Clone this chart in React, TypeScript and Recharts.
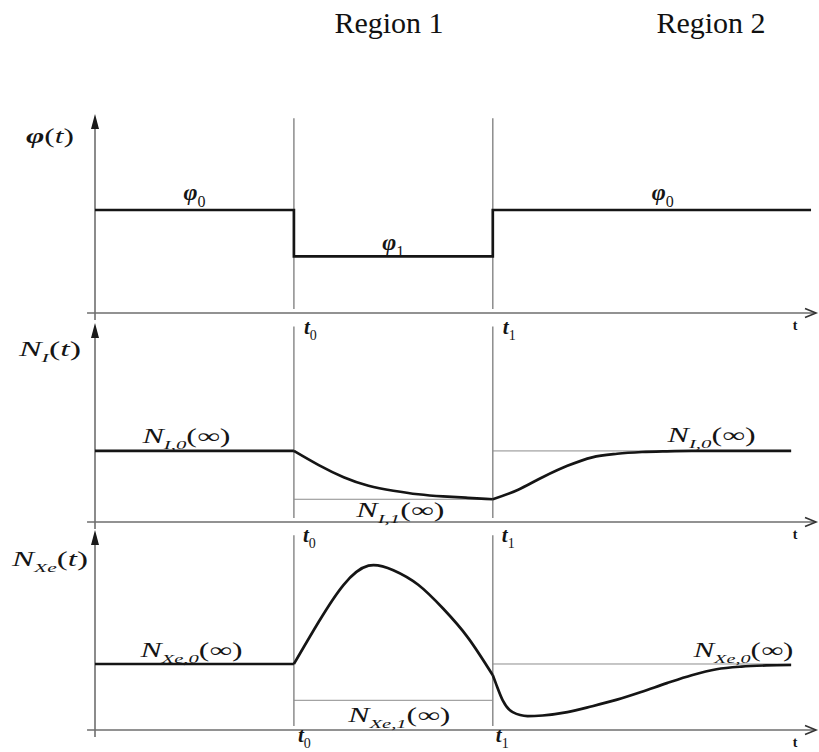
import React from "react"
import { LineChart, Line, XAxis, YAxis, ReferenceLine, ReferenceDot } from "recharts"

// time axis: flux steps down at t0 and back up at t1
const T0 = 2
const T1 = 4
const T_MAX = 7.25

// neutron flux φ(t)
const PHI_0 = 1
const PHI_1 = 0.55
const fluxTime = [0, T0, T1, 7.2]
const fluxLevel = [PHI_0, PHI_1, PHI_0, PHI_0]

// iodine concentration N_I(t)
const NI_0 = 1
const NI_1 = 0.32
const iodineTimeA = [0, T0]
const iodineLevelA = [1, 1]
const iodineTimeB = [2, 2.25, 2.5, 2.75, 3, 3.25, 3.5, 3.75, 4]
const iodineLevelB = [1, 0.8, 0.63, 0.51, 0.44, 0.39, 0.36, 0.34, 0.32]
const iodineTimeC = [4, 4.25, 4.5, 4.75, 5, 5.25, 5.5, 5.75, 6, 7]
const iodineLevelC = [0.32, 0.45, 0.63, 0.79, 0.91, 0.96, 0.985, 0.995, 1, 1]

// xenon concentration N_Xe(t)
const XE_0 = 1
const XE_1 = 0.45
const xenonTimeA = [0, T0]
const xenonLevelA = [1, 1]
const xenonTimeB = [2, 2.25, 2.5, 2.75, 3, 3.25, 3.5, 3.75, 4]
const xenonLevelB = [1, 1.64, 2.2, 2.49, 2.42, 2.2, 1.84, 1.4, 0.83]
const xenonTimeC = [4, 4.03, 4.1, 4.2, 4.35, 4.5, 4.75, 5, 5.25, 5.5, 5.75, 6, 6.25, 6.5, 6.75, 7]
const xenonLevelC = [0.83, 0.71, 0.45, 0.27, 0.21, 0.22, 0.27, 0.36, 0.46, 0.58, 0.71, 0.83, 0.92, 0.96, 0.978, 0.985]

const regionLabels = ["Region 1", "Region 2"]

const SERIF = "'Liberation Serif', 'Times New Roman', serif"
const AXIS = "#6e6e6e"
const GUIDE = "#8c8c8c"
const INK = "#151515"

const rows = (ts: number[], vs: number[]) => ts.map((t, i) => ({ t, v: vs[i] }))

type Seg = { s: string; it?: boolean; b?: boolean; sub?: boolean }

function MathText({ x, y, segs, size = 20, width, anchor = "middle" }: { x: number; y: number; segs: Seg[]; size?: number; width?: number; anchor?: string }) {
  let low = false
  return (
    <text x={x} y={y} textAnchor={anchor as any} fontFamily={SERIF} fontSize={size} fill={INK}
      textLength={width} lengthAdjust={width ? "spacingAndGlyphs" : undefined}>
      {segs.map((g, i) => {
        const shift = g.sub ? (low ? 0 : size * 0.28) : low ? -size * 0.28 : 0
        low = !!g.sub
        return (
          <tspan key={i} dy={shift || undefined} fontSize={g.sub ? Math.round(size * 0.65) : size}
            fontStyle={g.it ? "italic" : "normal"} fontWeight={g.b ? 700 : 400}>{g.s}</tspan>
        )
      })}
    </text>
  )
}

// text pinned to a data point, shifted by a few pixels
const tag = (segs: Seg[], dx: number, dy: number, opts: { size?: number; width?: number; anchor?: string } = {}) =>
  (p: any) => <MathText x={p.cx + dx} y={p.cy + dy} segs={segs} {...opts} />

// axis line with an arrow head at its second point
const arrow = (open: boolean) => (p: any) => {
  const { x1, y1, x2, y2 } = p
  const a = Math.atan2(y2 - y1, x2 - x1)
  const L = open ? 11 : 15
  const W = open ? 4.5 : 4
  const bx = x2 - L * Math.cos(a)
  const by = y2 - L * Math.sin(a)
  const px = -Math.sin(a) * W
  const py = Math.cos(a) * W
  return (
    <g>
      <line x1={x1} y1={y1} x2={open ? x2 : bx} y2={open ? y2 : by} stroke={AXIS} strokeWidth={1.6} />
      {open ? (
        <polyline points={`${bx + px},${by + py} ${x2},${y2} ${bx - px},${by - py}`} fill="none" stroke="#333" strokeWidth={1.6} />
      ) : (
        <polygon points={`${x2},${y2} ${bx + px},${by + py} ${bx - px},${by - py}`} fill="#1a1a1a" />
      )}
    </g>
  )
}

const phiTitle: Seg[] = [{ s: "φ", it: true, b: true }, { s: "(" }, { s: "t", it: true }, { s: ")" }]
const phi0: Seg[] = [{ s: "φ", it: true, b: true }, { s: "0", sub: true }]
const phi1: Seg[] = [{ s: "φ", it: true, b: true }, { s: "1", sub: true }]
const niTitle: Seg[] = [{ s: "N", it: true }, { s: "I", it: true, sub: true }, { s: "(" }, { s: "t", it: true }, { s: ")" }]
const ni0: Seg[] = [{ s: "N", it: true }, { s: "I,0", it: true, sub: true }, { s: "(∞)" }]
const ni1: Seg[] = [{ s: "N", it: true }, { s: "I,1", it: true, sub: true }, { s: "(∞)" }]
const xeTitle: Seg[] = [{ s: "N", it: true }, { s: "Xe", it: true, sub: true }, { s: "(" }, { s: "t", it: true }, { s: ")" }]
const xe0: Seg[] = [{ s: "N", it: true }, { s: "Xe,0", it: true, sub: true }, { s: "(∞)" }]
const xe1: Seg[] = [{ s: "N", it: true }, { s: "Xe,1", it: true, sub: true }, { s: "(∞)" }]
const t0: Seg[] = [{ s: "t", it: true, b: true }, { s: "0", sub: true }]
const t1: Seg[] = [{ s: "t", it: true, b: true }, { s: "1", sub: true }]
const tAxis: Seg[] = [{ s: "t", b: true }]

function Frame({ yMax, vLo, vHi, title, titleDy, titleW, tDx0, tDx1, tDy }: any) {
  return (
    <>
      <ReferenceLine segment={[{ x: T0, y: vLo }, { x: T0, y: vHi }]} stroke={GUIDE} strokeWidth={1.5} ifOverflow="visible" />
      <ReferenceLine segment={[{ x: T1, y: vLo }, { x: T1, y: vHi }]} stroke={GUIDE} strokeWidth={1.5} ifOverflow="visible" />
      <ReferenceLine segment={[{ x: -0.08, y: 0 }, { x: T_MAX, y: 0 }]} shape={arrow(true)} ifOverflow="visible" />
      <ReferenceLine segment={[{ x: 0, y: -yMax * 0.035 }, { x: 0, y: yMax }]} shape={arrow(false)} ifOverflow="visible" />
      <ReferenceDot x={0} y={yMax} r={0} ifOverflow="visible" shape={tag(title, -45, titleDy, { width: titleW })} />
      <ReferenceDot x={T0} y={0} r={0} ifOverflow="visible" shape={tag(t0, tDx0, tDy, { anchor: "start", size: 21 })} />
      <ReferenceDot x={T1} y={0} r={0} ifOverflow="visible" shape={tag(t1, tDx1, tDy, { anchor: "start", size: 21 })} />
      <ReferenceDot x={7.04} y={0} r={0} ifOverflow="visible" shape={tag(tAxis, 0, 17, { size: 14 })} />
    </>
  )
}

function Panel({ top, height, mTop, mBottom, yMax, children }: any) {
  return (
    <div style={{ position: "absolute", left: 0, top }}>
      <LineChart width={819} height={height} margin={{ top: mTop, right: 3, bottom: mBottom, left: 95 }}>
        <XAxis type="number" dataKey="t" domain={[0, T_MAX]} scale="linear" hide />
        <YAxis type="number" domain={[0, yMax]} scale="linear" hide />
        {children}
      </LineChart>
    </div>
  )
}

const curve = { dataKey: "v", stroke: INK, strokeWidth: 2.7, dot: false, isAnimationActive: false, activeDot: false }

export default function App() {
  const phiMax = 1.932
  const niMax = 2.8
  const xeMax = 3.03
  return (
    <div style={{ position: "absolute", left: 0, top: 0, width: 819, height: 752, background: "#fff" }}>
      {regionLabels.map((r, i) => (
        <div key={r} style={{ position: "absolute", top: 8, left: [289, 611][i], width: 200, textAlign: "center", fontSize: 30, lineHeight: "30px", color: "#111", fontFamily: SERIF }}>{r}</div>
      ))}

      <Panel top={0} height={345} mTop={114} mBottom={32} yMax={phiMax}>
        <Frame yMax={phiMax} vLo={0.04} vHi={1.89} title={phiTitle} titleDy={29} titleW={48} tDx0={10} tDx1={10} tDy={21} />
        <Line data={rows(fluxTime, fluxLevel)} type="stepAfter" {...curve} />
        <ReferenceDot x={1} y={PHI_0} r={0} ifOverflow="visible" shape={tag(phi0, 0, -10, { size: 24 })} />
        <ReferenceDot x={3} y={PHI_1} r={0} ifOverflow="visible" shape={tag(phi1, 0, -6, { size: 24 })} />
        <ReferenceDot x={5.71} y={PHI_0} r={0} ifOverflow="visible" shape={tag(phi0, 0, -10, { size: 24 })} />
      </Panel>

      <Panel top={316} height={238} mTop={7} mBottom={32} yMax={niMax}>
        <Frame yMax={niMax} vLo={0.056} vHi={2.75} title={niTitle} titleDy={33} titleW={62} tDx0={9} tDx1={9} tDy={20} />
        <ReferenceLine segment={[{ x: T0, y: NI_1 }, { x: T1, y: NI_1 }]} stroke={GUIDE} strokeWidth={1} />
        <ReferenceLine segment={[{ x: T1, y: NI_0 }, { x: 7, y: NI_0 }]} stroke={GUIDE} strokeWidth={1} />
        <Line data={rows(iodineTimeA, iodineLevelA)} type="linear" {...curve} />
        <Line data={rows(iodineTimeB, iodineLevelB)} type="natural" {...curve} />
        <Line data={rows(iodineTimeC, iodineLevelC)} type="monotone" {...curve} />
        <ReferenceDot x={0.92} y={NI_0} r={0} ifOverflow="visible" shape={tag(ni0, 0, -8, { width: 88 })} />
        <ReferenceDot x={3.07} y={NI_1} r={0} ifOverflow="visible" shape={tag(ni1, 0, 18, { width: 88 })} />
        <ReferenceDot x={6.2} y={NI_0} r={0} ifOverflow="visible" shape={tag(ni0, 0, -9, { width: 88 })} />
      </Panel>

      <Panel top={524} height={228} mTop={6} mBottom={22} yMax={xeMax}>
        <Frame yMax={xeMax} vLo={0.06} vHi={2.95} title={xeTitle} titleDy={36} titleW={76} tDx0={4} tDx1={3} tDy={12} />
        <ReferenceLine segment={[{ x: T0, y: XE_1 }, { x: T1, y: XE_1 }]} stroke={GUIDE} strokeWidth={1} />
        <ReferenceLine segment={[{ x: T1, y: XE_0 }, { x: 7, y: XE_0 }]} stroke={GUIDE} strokeWidth={1} />
        <Line data={rows(xenonTimeA, xenonLevelA)} type="linear" {...curve} />
        <Line data={rows(xenonTimeB, xenonLevelB)} type="natural" {...curve} />
        <Line data={rows(xenonTimeC, xenonLevelC)} type="monotone" {...curve} />
        <ReferenceDot x={0.97} y={XE_0} r={0} ifOverflow="visible" shape={tag(xe0, 0, -7, { width: 102 })} />
        <ReferenceDot x={3.06} y={XE_1} r={0} ifOverflow="visible" shape={tag(xe1, 0, 22, { width: 102 })} />
        <ReferenceDot x={6.52} y={XE_0} r={0} ifOverflow="visible" shape={tag(xe0, 0, -7, { width: 100 })} />
      </Panel>
    </div>
  )
}
